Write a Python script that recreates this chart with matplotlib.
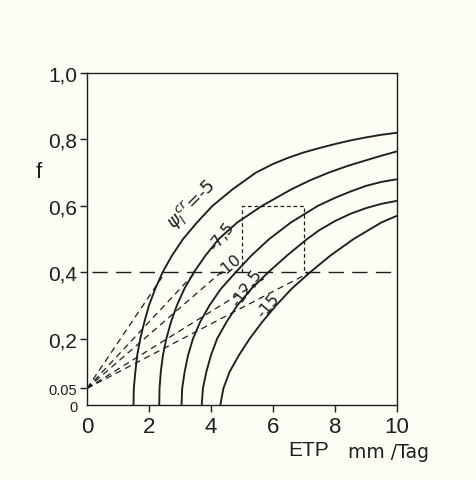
import numpy as np
import matplotlib
matplotlib.use("Agg")
import matplotlib.pyplot as plt

# ---------------- data ----------------
psi_labels = [r"$\psi_{l}^{\,cr}$=-5", "-7,5", "-10", "-12,5", "-15"]

etp_m5 = [1.5, 1.51, 1.56, 1.62, 1.72, 1.85, 2.0, 2.2, 2.44, 2.74, 3.1, 3.55,
          4.05, 4.7, 5.45, 6.0, 6.5, 7.0, 7.5, 8.0, 8.5, 9.0, 9.5, 10.0]
f_m5 = [0.0, 0.05, 0.1, 0.15, 0.2, 0.25, 0.3, 0.35, 0.4, 0.45, 0.5, 0.55,
        0.6, 0.65, 0.7, 0.726, 0.745, 0.761, 0.774, 0.786, 0.797, 0.806, 0.814, 0.82]

etp_m75 = [2.33, 2.34, 2.38, 2.45, 2.56, 2.71, 2.9, 3.14, 3.45, 3.82, 4.25,
           4.85, 5.65, 6.6, 7.2, 7.8, 8.4, 9.0, 9.5, 10.0]
f_m75 = [0.0, 0.05, 0.1, 0.15, 0.2, 0.25, 0.3, 0.35, 0.4, 0.45, 0.5,
         0.55, 0.6, 0.65, 0.677, 0.70, 0.72, 0.737, 0.751, 0.764]

etp_m10 = [3.05, 3.07, 3.15, 3.26, 3.42, 3.65, 3.95, 4.32, 4.8, 5.3, 5.88,
           6.58, 7.45, 8.0, 8.5, 9.0, 9.5, 10.0]
f_m10 = [0.0, 0.05, 0.1, 0.15, 0.2, 0.25, 0.3, 0.35, 0.4, 0.45, 0.5,
         0.55, 0.6, 0.624, 0.643, 0.66, 0.672, 0.68]

etp_m125 = [3.7, 3.74, 3.85, 4.0, 4.2, 4.5, 4.85, 5.3, 5.85, 6.45, 7.1,
            7.5, 8.0, 8.5, 9.0, 9.5, 10.0]
f_m125 = [0.0, 0.05, 0.1, 0.15, 0.2, 0.25, 0.3, 0.35, 0.4, 0.45, 0.5,
          0.527, 0.554, 0.576, 0.593, 0.606, 0.615]

etp_m15 = [4.3, 4.4, 4.6, 4.9, 5.25, 5.65, 6.1, 6.6, 7.2, 7.85, 8.6, 9.5, 10.0]
f_m15 = [0.0, 0.05, 0.1, 0.15, 0.2, 0.25, 0.3, 0.35, 0.4, 0.45, 0.5, 0.55, 0.57]

curves = [(etp_m5, f_m5), (etp_m75, f_m75), (etp_m10, f_m10),
          (etp_m125, f_m125), (etp_m15, f_m15)]

# dashed rays from (0, 0.05) to the curves
ray_start = (0.0, 0.05)
ray_end_etp = [2.42, 3.45, 4.45, 5.7, 7.2]
ray_end_f = [0.385, 0.395, 0.41, 0.38, 0.40]

f_level = 0.4
box_etp = [5.0, 7.0]
box_f = [0.4, 0.6]

# label positions along the curves
lab_etp = [3.39, 4.35, 4.6, 5.16, 5.84]
lab_f = [0.605, 0.51, 0.42, 0.355, 0.30]
lab_rot = [45, 52, 40, 55, 50]

xticks = [0, 2, 4, 6, 8, 10]
xtick_labels = ["0", "2", "4", "6", "8", "10"]
yticks = [0, 0.05, 0.2, 0.4, 0.6, 0.8, 1.0]
ytick_labels = ["0", "0.05", "0,2", "0,4", "0,6", "0,8", "1,0"]

# ---------------- figure ----------------
ink = "#1e1e1e"
paper = "#fdfdf6"
plt.rcParams["font.family"] = ["Liberation Sans Narrow", "Liberation Sans", "DejaVu Sans"]

fig = plt.figure(figsize=(4.76, 4.81), dpi=100, facecolor=paper)
ax = fig.add_axes([87 / 476, 1 - 406 / 481, 310 / 476, 332 / 481])
ax.set_facecolor(paper)

for x, y in curves:
    ax.plot(x, y, color=ink, lw=1.35, solid_capstyle="butt", solid_joinstyle="round")

for xe, ye in zip(ray_end_etp, ray_end_f):
    ax.plot([ray_start[0], xe], [ray_start[1], ye], color=ink, lw=0.9,
            dashes=(5, 3.6))

ax.plot([0.15, 10], [f_level, f_level], color=ink, lw=1.0, dashes=(11, 6))

bx = [box_etp[0], box_etp[0], box_etp[1], box_etp[1]]
by = [box_f[0], box_f[1], box_f[1], box_f[0]]
ax.plot(bx, by, color=ink, lw=0.9, dashes=(3, 2.2))

for i, txt in enumerate(psi_labels):
    fs = 13 if i == 0 else 11.5
    ax.text(lab_etp[i], lab_f[i], txt, rotation=lab_rot[i], rotation_mode="anchor",
            ha="center", va="center", fontsize=fs, color=ink, family="DejaVu Sans")

ax.set_xlim(0, 10)
ax.set_ylim(0, 1.0)

ax.set_xticks(xticks)
ax.set_xticklabels(xtick_labels, fontsize=16, color=ink)
ax.set_yticks(yticks)
ax.set_yticklabels(ytick_labels, fontsize=15, color=ink)
for lbl in ax.get_yticklabels()[:2]:
    lbl.set_fontsize(10.5)
ax.xaxis.get_major_ticks()[0].tick1line.set_visible(False)
ax.yaxis.get_major_ticks()[0].tick1line.set_visible(False)

ax.tick_params(direction="out", length=5, width=1.0, color=ink, pad=2)
ax.tick_params(axis="x", pad=3)
for sp in ax.spines.values():
    sp.set_color(ink)
    sp.set_linewidth(1.0)

fig.text(39 / 476, 1 - 173 / 481, "f", fontsize=16, color=ink,
         ha="center", va="center")
fig.text(288 / 476, 1 - 450 / 481, "ETP", fontsize=15, color=ink,
         ha="left", va="center")
fig.text(348 / 476, 1 - 452 / 481, "mm /Tag", fontsize=13.5, color=ink,
         ha="left", va="center", family="DejaVu Sans")

fig.savefig("out.png", dpi=100, facecolor=paper)
